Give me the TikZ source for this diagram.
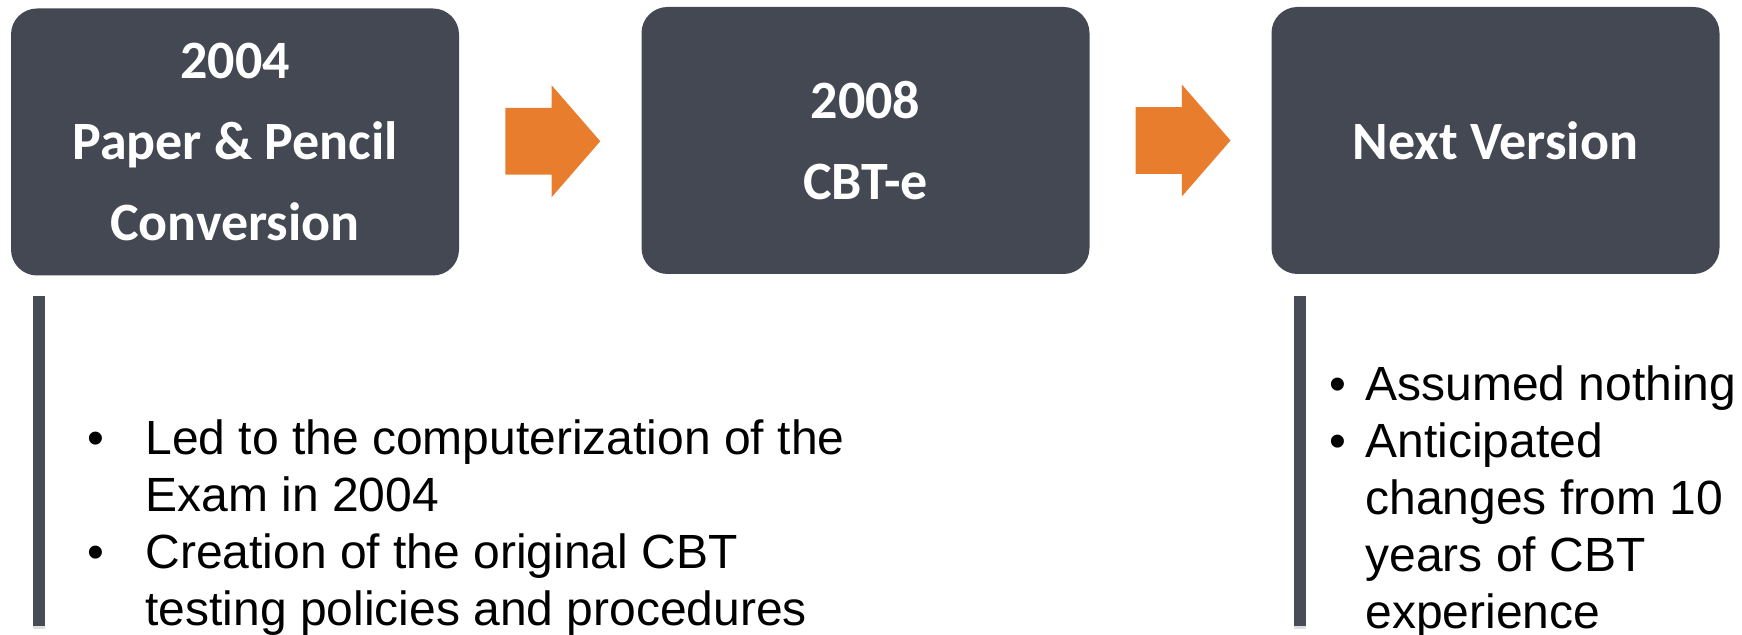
\documentclass[tikz,border=0pt]{standalone}
\usepackage{fontspec}
\setmainfont{Liberation Sans}
\newfontfamily\stagefont{Carlito}
\usetikzlibrary{shapes.arrows,shadows}

\definecolor{slate}{RGB}{68,72,82}
\definecolor{barslate}{RGB}{72,76,87}
\definecolor{flow}{RGB}{232,125,46}

\newcommand{\bul}[1]{\makebox[#1][l]{\textbullet}}

\tikzset{
	stage/.style={fill=slate, rounded corners=13pt, minimum width=224pt, minimum height=133.5pt,
		inner sep=0pt, text=white, align=center, font=\stagefont\bfseries\fontsize{27}{40.5}\selectfont},
	flowarrow/.style={single arrow, fill=flow, minimum height=47.5pt, minimum width=55.5pt,
		inner xsep=0pt, inner ysep=16.5pt, single arrow head extend=11.25pt, single arrow tip angle=98},
	notes/.style={anchor=north west, inner sep=0pt, align=left, font=\fontsize{24}{28.5}\selectfont},
	bar/.style={fill=barslate, drop shadow={opacity=.25, shadow xshift=0pt, shadow yshift=-1.5pt}}
}

\begin{document}
\begin{tikzpicture}[x=0.5pt,y=-0.5pt]
		\useasboundingbox (0,0) rectangle (1742,635);
		
		% the three stages
		\node[stage] (paper) at (235,142) {2004\\Paper \& Pencil\\Conversion};
		\node[stage] (cbte) at (865.5,140.5) {2008\\CBT-e};
		\node[stage] (next) at (1495.5,140.5) {Next Version};
		
		% arrows between them
		\path (paper.east) -- (cbte.west) node[midway,flowarrow,xshift=-6pt] (go1) {};
		\path (cbte.east) -- (next.west) node[midway,flowarrow,xshift=-6pt] (go2) {};
		
		% side bars
		\fill[bar] (33,296) rectangle (45,626);
		\fill[bar] (1294,296) rectangle (1306,626);
		
		% notes
		\node[notes] (paperNotes) at (87,419) {\bul{29pt}Led to the computerization of the\\
			\hspace*{29pt}Exam in 2004\\
			\bul{29pt}Creation of the original CBT\\
			\hspace*{29pt}testing policies and procedures};
		\node[notes] (nextNotes) at (1329.5,365) {\bul{17.75pt}Assumed nothing\\
			\bul{17.75pt}Anticipated\\
			\hspace*{17.75pt}changes from 10\\
			\hspace*{17.75pt}years of CBT\\
			\hspace*{17.75pt}experience};
		
\end{tikzpicture}
\end{document}
